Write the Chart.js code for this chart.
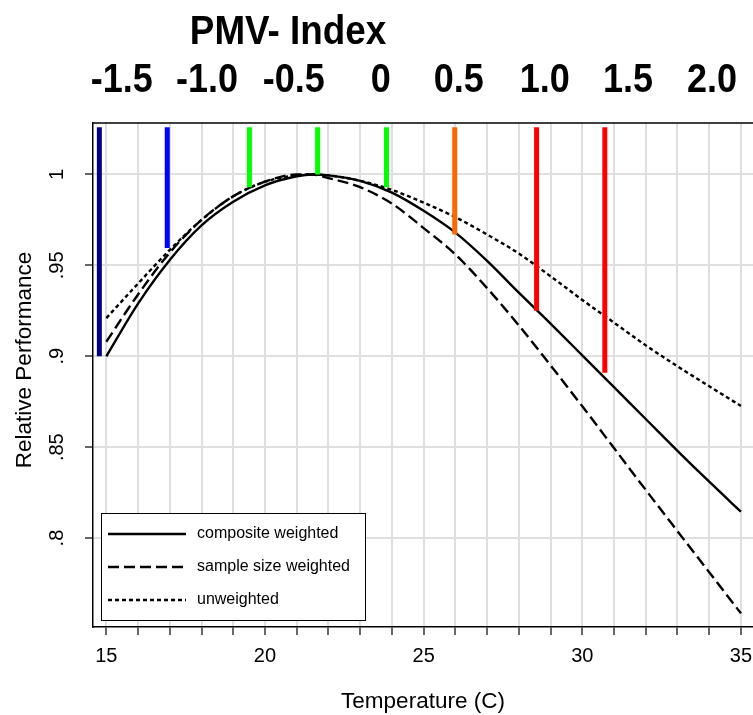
<!DOCTYPE html>
<html>
<head>
<meta charset="utf-8">
<title>Relative Performance vs Temperature</title>
<script src="https://cdn.jsdelivr.net/npm/chart.js@4.4.0/dist/chart.umd.min.js"></script>
<style>
    html, body { margin: 0; padding: 0; background: #fff; overflow: hidden; }
    canvas { display: block; }
</style>
</head>
<body>
<canvas id="perf-chart" width="753" height="715"></canvas>
<script>
/*
    data
*/
const temperatures = [15, 16, 17, 18, 19, 20, 21, 21.5, 22, 23, 24, 25, 26, 27, 28, 29, 30, 31, 32, 33, 34, 35];
const compositeWeighted = [0.900, 0.929, 0.953, 0.972, 0.985, 0.994, 0.999, 1.0, 0.9995, 0.9965, 0.990, 0.980, 0.968, 0.9525, 0.935, 0.918, 0.9005, 0.883, 0.8655, 0.848, 0.831, 0.8145];
const sampleSizeWeighted = [0.908, 0.934, 0.957, 0.975, 0.988, 0.996, 1.0, 1.0, 0.998, 0.993, 0.984, 0.9705, 0.956, 0.9375, 0.917, 0.895, 0.8725, 0.8495, 0.8265, 0.8038, 0.7812, 0.7586];
const unweighted = [0.921, 0.940, 0.9585, 0.975, 0.988, 0.996, 0.9995, 1.0, 0.9995, 0.9965, 0.9915, 0.9845, 0.9765, 0.967, 0.9565, 0.944, 0.931, 0.9185, 0.906, 0.8945, 0.8835, 0.8727];

// PMV marks: temperature of each bar and the value where it stops
const pmvBarTemps = [14.78, 16.92, 19.51, 21.66, 23.83, 25.98, 28.56, 30.71];
const pmvBarBottoms = [0.900, 0.9596, 0.993, 1.0, 0.993, 0.967, 0.925, 0.891];
const pmvBarColors = ["#000080", "#0000ff", "#00ff00", "#00ff00", "#00ff00", "#ff6600", "#ff0000", "#ff0000"];
const pmvBarTop = 1.026;

// PMV index labels along the top, placed on the temperature axis
const pmvLabels = ["-1.5", "-1.0", "-0.5", "0", "0.5", "1.0", "1.5", "2.0"];
const pmvLabelTemps = [15.49, 18.17, 20.91, 23.65, 26.11, 28.82, 31.44, 34.09];

const xTickValues = [15, 16, 17, 18, 19, 20, 21, 22, 23, 24, 25, 26, 27, 28, 29, 30, 31, 32, 33, 34, 35];
const yTickValues = [0.8, 0.85, 0.9, 0.95, 1];

const FONT = "'Liberation Sans', Arial, Helvetica, sans-serif";
Chart.defaults.font.family = FONT;
Chart.defaults.color = "#000";

function toPoints(values) {
    return values.map((v, i) => ({ x: temperatures[i], y: v }));
}

/* vertical PMV bars (drawn on top of the curves) */
const barDatasets = pmvBarTemps.map((t, i) => ({
    label: "PMV " + i,
    data: [{ x: t, y: pmvBarTop }, { x: t, y: pmvBarBottoms[i] }],
    borderColor: pmvBarColors[i],
    borderWidth: 5,
    borderCapStyle: "butt",
    pointRadius: 0,
    inLegend: false
}));

const curveStyle = {
    borderColor: "#000",
    borderWidth: 2.4,
    pointRadius: 0,
    cubicInterpolationMode: "monotone",
    fill: false,
    inLegend: true
};

const curveDatasets = [
    { ...curveStyle, label: "composite weighted", data: toPoints(compositeWeighted), borderDash: [] },
    { ...curveStyle, label: "sample size weighted", data: toPoints(sampleSizeWeighted), borderDash: [11, 5] },
    { ...curveStyle, label: "unweighted", data: toPoints(unweighted), borderDash: [4, 3] }
];

/*
    extras: top frame line, PMV header, y title and the boxed legend
*/
const overlayPlugin = {
    id: "overlay",
    afterDraw(chart) {
        const ctx = chart.ctx;
        const area = chart.chartArea;
        const xScale = chart.scales.x;

        ctx.save();

        // top frame line
        ctx.strokeStyle = "#000";
        ctx.lineWidth = 1.5;
        ctx.beginPath();
        ctx.moveTo(area.left, area.top);
        ctx.lineTo(area.right, area.top);
        ctx.stroke();

        // PMV header (narrow bold text)
        ctx.fillStyle = "#000";
        ctx.textAlign = "center";
        ctx.textBaseline = "alphabetic";
        ctx.font = "bold 40px " + FONT;
        drawNarrow(ctx, "PMV- Index", 288, 44, 0.92);
        pmvLabels.forEach((label, i) => {
            drawNarrow(ctx, label, xScale.getPixelForValue(pmvLabelTemps[i]), 92, 0.9);
        });

        // y axis title (sits a little above the middle of the axis)
        ctx.save();
        ctx.translate(25, 360);
        ctx.rotate(-Math.PI / 2);
        ctx.font = "22.5px " + FONT;
        ctx.textBaseline = "middle";
        ctx.fillText("Relative Performance", 0, 0);
        ctx.restore();

        // legend box
        const boxLeft = area.left + 8;
        const boxTop = area.bottom - 114;
        const boxW = 264;
        const boxH = 107;
        ctx.fillStyle = "#fff";
        ctx.fillRect(boxLeft, boxTop, boxW, boxH);
        ctx.strokeStyle = "#000";
        ctx.lineWidth = 1;
        ctx.strokeRect(boxLeft + 0.5, boxTop + 0.5, boxW, boxH);

        const items = chart.data.datasets.filter(ds => ds.inLegend);
        ctx.font = "16px " + FONT;
        ctx.textAlign = "left";
        ctx.textBaseline = "middle";
        items.forEach((ds, i) => {
            const y = boxTop + 21 + i * 33;
            ctx.strokeStyle = "#000";
            ctx.lineWidth = 2.4;
            ctx.setLineDash(ds.borderDash);
            ctx.beginPath();
            ctx.moveTo(boxLeft + 7, y);
            ctx.lineTo(boxLeft + 85, y);
            ctx.stroke();
            ctx.setLineDash([]);
            ctx.fillStyle = "#000";
            ctx.fillText(ds.label, boxLeft + 96, y);
        });

        ctx.restore();
    }
};

function drawNarrow(ctx, text, x, y, squeeze) {
    ctx.save();
    ctx.translate(x, y);
    ctx.scale(squeeze, 1);
    ctx.fillText(text, 0, 0);
    ctx.restore();
}

const ctx = document.getElementById("perf-chart").getContext("2d");

const perfChart = new Chart(ctx, {
    type: "line",
    data: {
        datasets: [...barDatasets, ...curveDatasets]
    },
    options: {
        responsive: false,
        animation: false,
        layout: {
            padding: { top: 123, left: 0, right: 0, bottom: 0 }
        },
        plugins: {
            legend: { display: false },
            tooltip: { enabled: false },
            title: { display: false }
        },
        scales: {
            x: {
                type: "linear",
                min: 14.58,
                max: 35.38,
                afterBuildTicks: scale => {
                    scale.ticks = xTickValues.map(v => ({ value: v }));
                },
                afterFit: scale => {
                    scale.height = 88;
                    scale.paddingLeft = 0;
                    scale.paddingRight = 0;
                },
                ticks: {
                    autoSkip: false,
                    maxRotation: 0,
                    padding: 9,
                    font: { size: 20 },
                    callback: value => (value % 5 === 0 ? String(value) : "")
                },
                grid: {
                    color: "#dfdfdf",
                    lineWidth: 2,
                    tickLength: 8,
                    tickColor: "#000",
                    tickWidth: 1.2
                },
                border: { display: true, color: "#000", width: 1.5 },
                title: {
                    display: true,
                    text: "Temperature (C)",
                    font: { size: 22.5 },
                    padding: { top: 0, bottom: 0 }
                }
            },
            y: {
                type: "linear",
                min: 0.7511,
                max: 1.0283,
                afterBuildTicks: scale => {
                    scale.ticks = yTickValues.map(v => ({ value: v }));
                },
                afterFit: scale => {
                    scale.width = 93;
                    scale.paddingTop = 0;
                    scale.paddingBottom = 0;
                },
                ticks: {
                    minRotation: 90,
                    maxRotation: 90,
                    crossAlign: "center",
                    padding: 14,
                    font: { size: 20 },
                    callback: value => (value === 1 ? "1" : value.toFixed(2).replace(/0$/, "").replace(/^0/, ""))
                },
                grid: {
                    color: "#dfdfdf",
                    lineWidth: 2,
                    tickLength: 8,
                    tickColor: "#000",
                    tickWidth: 1.2
                },
                border: { display: true, color: "#000", width: 1.5 }
            }
        }
    },
    plugins: [overlayPlugin]
});
</script>
</body>
</html>
